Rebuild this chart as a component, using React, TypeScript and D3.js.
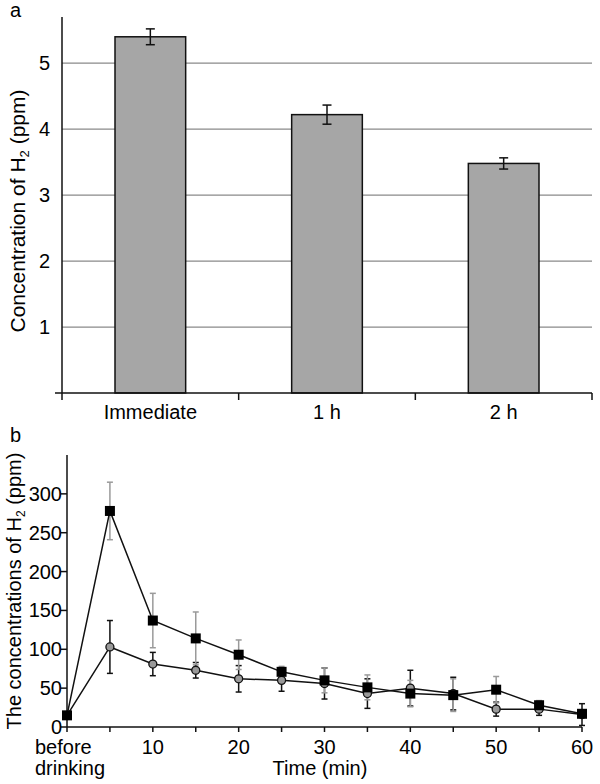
import React from 'react'
import * as d3 from 'd3'

// panel a
const categories = ['Immediate', '1 h', '2 h']
const barMeans = [5.4, 4.22, 3.48]
const barErrs = [0.12, 0.145, 0.085]
const aTicks = [1, 2, 3, 4, 5]

// panel b
const times = [0, 5, 10, 15, 20, 25, 30, 35, 40, 45, 50, 55, 60]
const squareMeans = [15, 278, 137, 114, 93, 71, 60, 51, 43, 41, 48, 28, 17]
const squareErrs = [0, 37, 35, 34, 19, 7, 16, 16, 17, 21, 17, 6, 5]
const circleMeans = [15, 103, 81, 73, 62, 60, 56, 43, 50, 43, 23, 23, 16]
const circleErrs = [0, 34, 15, 10, 17, 14, 20, 19, 23, 21, 9, 8, 14]
const bYTicks = [0, 50, 100, 150, 200, 250, 300]
const bXMinor = d3.range(0, 61, 5)
const bXLabels = [10, 20, 30, 40, 50, 60]

const font = '"Liberation Sans", Arial, sans-serif'

export default function App() {
  const xA = d3.scaleBand().domain(categories).range([62, 592])
  const yA = d3.scaleLinear().domain([0, 5.7]).range([393, 17])
  const bw = xA.bandwidth() * 0.4

  const xB = d3.scaleLinear().domain([0, 60]).range([67, 582])
  const yB = d3.scaleLinear().domain([0, 350]).range([727, 455])

  const sqPts = times.map((t, i) => ({ t, v: squareMeans[i], e: squareErrs[i] }))
  const cPts = times.map((t, i) => ({ t, v: circleMeans[i], e: circleErrs[i] }))
  const line = d3.line<{ t: number; v: number }>().x(d => xB(d.t)).y(d => yB(d.v))

  const errBars = (pts: { t: number; v: number; e: number }[], color: string, key: string) =>
    pts.filter(d => d.e > 0).map((d, i) => {
      const x = xB(d.t)
      const y0 = yB(d.v - d.e)
      const y1 = yB(d.v + d.e)
      return (
        <g key={key + i} stroke={color} strokeWidth={1.5}>
          <line x1={x} x2={x} y1={y0} y2={y1} />
          <line x1={x - 3} x2={x + 3} y1={y0} y2={y0} />
          <line x1={x - 3} x2={x + 3} y1={y1} y2={y1} />
        </g>
      )
    })

  return (
    <svg width={600} height={784} style={{ position: 'absolute', left: 0, top: 0, background: '#fff' }} fontFamily={font}>
      <rect width={600} height={784} fill="#fff" />

      {/* panel a */}
      <text x={10} y={17} fontSize={20}>a</text>
      {aTicks.map(t => (
        <g key={'ga' + t}>
          <line x1={62} x2={592} y1={yA(t)} y2={yA(t)} stroke="#8a8a8a" strokeWidth={1.3} />
          <text x={50} y={yA(t)} dy="0.35em" textAnchor="end" fontSize={20}>{t}</text>
        </g>
      ))}
      {categories.map((c, i) => {
        const cx = xA(c)! + xA.bandwidth() / 2
        return (
          <g key={c}>
            <rect x={cx - bw / 2} y={yA(barMeans[i])} width={bw} height={yA(0) - yA(barMeans[i])} fill="#a6a6a6" stroke="#111" strokeWidth={1.5} />
            <g stroke="#111" strokeWidth={1.5}>
              <line x1={cx} x2={cx} y1={yA(barMeans[i] - barErrs[i])} y2={yA(barMeans[i] + barErrs[i])} />
              <line x1={cx - 4.5} x2={cx + 4.5} y1={yA(barMeans[i] - barErrs[i])} y2={yA(barMeans[i] - barErrs[i])} />
              <line x1={cx - 4.5} x2={cx + 4.5} y1={yA(barMeans[i] + barErrs[i])} y2={yA(barMeans[i] + barErrs[i])} />
            </g>
            <text x={cx} y={419} textAnchor="middle" fontSize={20}>{c}</text>
          </g>
        )
      })}
      <line x1={62} x2={62} y1={yA(5.7)} y2={yA(0)} stroke="#111" strokeWidth={1.5} />
      <line x1={55} x2={592} y1={yA(0)} y2={yA(0)} stroke="#111" strokeWidth={1.5} />
      {[0, 1, 2, 3].map(k => {
        const x = k < 3 ? xA(categories[k])! : 592
        return <line key={'ta' + k} x1={x} x2={x} y1={yA(0)} y2={yA(0) + 7} stroke="#111" strokeWidth={1.5} />
      })}
      <text transform="translate(25,211) rotate(-90)" textAnchor="middle" fontSize={21}>
        Concentration of H<tspan fontSize={13} dy={4}>2</tspan><tspan dy={-4}> (ppm)</tspan>
      </text>

      {/* panel b */}
      <text x={10} y={442} fontSize={20}>b</text>
      {bYTicks.map(t => (
        <g key={'gb' + t}>
          <line x1={61} x2={67} y1={yB(t)} y2={yB(t)} stroke="#111" strokeWidth={1.5} />
          <text x={62} y={yB(t)} dy="0.35em" textAnchor="end" fontSize={20}>{t}</text>
        </g>
      ))}
      {bXMinor.map(t => (
        <line key={'tb' + t} x1={xB(t)} x2={xB(t)} y1={yB(0)} y2={yB(0) + 5} stroke="#111" strokeWidth={1.5} />
      ))}
      {bXLabels.map(t => (
        <text key={'lb' + t} x={xB(t)} y={754} textAnchor="middle" fontSize={20}>{t}</text>
      ))}
      <text x={35} y={754} fontSize={20}>before</text>
      <text x={35} y={775} fontSize={20}>drinking</text>
      <text x={320} y={775} textAnchor="middle" fontSize={20}>Time (min)</text>
      <line x1={67} x2={67} y1={yB(350)} y2={yB(0)} stroke="#111" strokeWidth={1.5} />
      <line x1={67} x2={582} y1={yB(0)} y2={yB(0)} stroke="#111" strokeWidth={1.5} />
      <text transform={`translate(21,${(yB(0) + yB(350)) / 2}) rotate(-90)`} textAnchor="middle" fontSize={20}>
        The concentrations of H<tspan fontSize={12} dy={4}>2</tspan><tspan dy={-4}> (ppm)</tspan>
      </text>

      {errBars(cPts, '#111', 'ec')}
      {errBars(sqPts, '#9a9a9a', 'es')}
      <path d={line(cPts)!} fill="none" stroke="#111" strokeWidth={1.5} />
      <path d={line(sqPts)!} fill="none" stroke="#111" strokeWidth={1.5} />
      {cPts.map((d, i) => (
        <circle key={'c' + i} cx={xB(d.t)} cy={yB(d.v)} r={4} fill="#999" stroke="#111" strokeWidth={1.3} />
      ))}
      {sqPts.map((d, i) => (
        <rect key={'s' + i} x={xB(d.t) - 5} y={yB(d.v) - 5} width={10} height={10} fill="#000" />
      ))}
    </svg>
  )
}
